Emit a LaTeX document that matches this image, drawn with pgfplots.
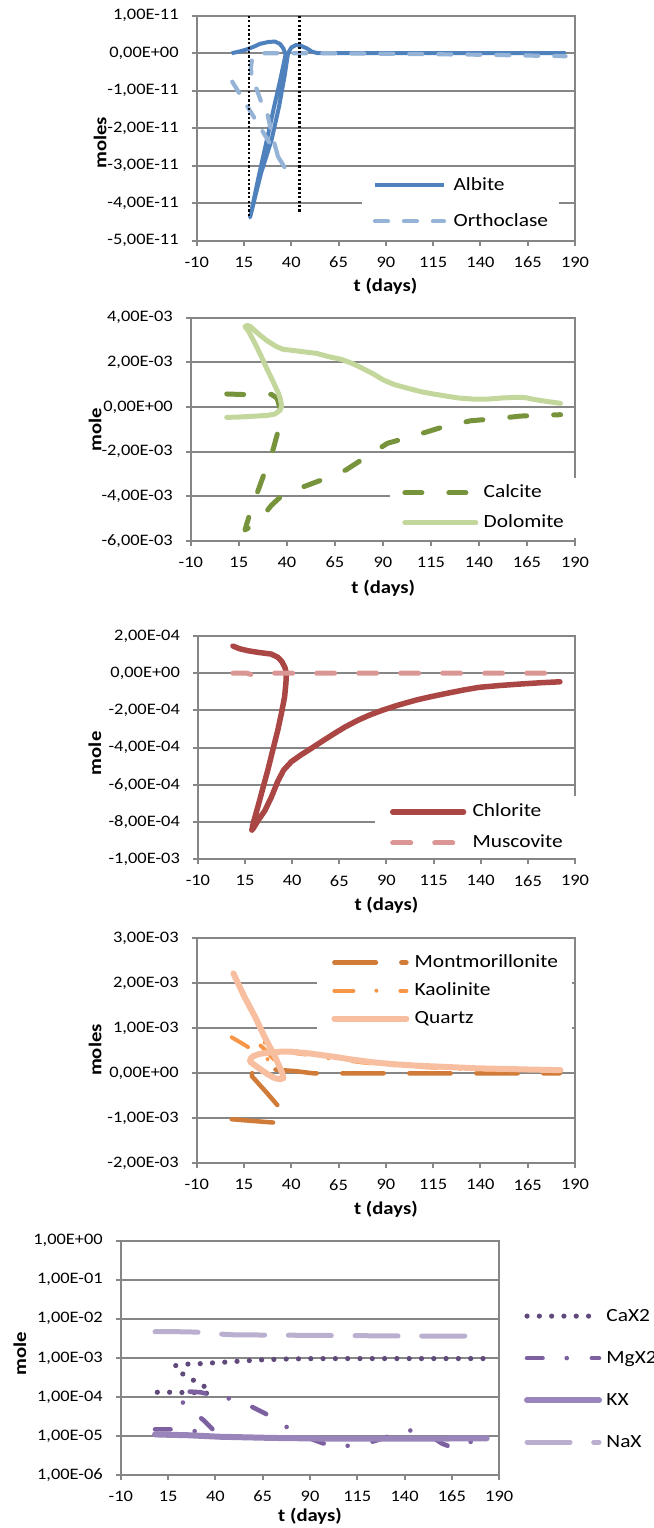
\documentclass[border=0pt]{standalone}
\usepackage{pgfplots}
\pgfplotsset{compat=1.18}
\usepackage{fontspec}
\setmainfont{Carlito}[FakeStretch=1.15]
\definecolor{axisgray}{HTML}{868686}
\definecolor{albite}{HTML}{4F81BD}
\definecolor{orthoclase}{HTML}{95B3D7}
\definecolor{calcite}{HTML}{77933C}
\definecolor{dolomite}{HTML}{C3D69B}
\definecolor{chlorite}{HTML}{AA4643}
\definecolor{muscovite}{HTML}{D99694}
\definecolor{montmo}{HTML}{D07B38}
\definecolor{kaolinite}{HTML}{F79646}
\definecolor{quartz}{HTML}{F7BFA0}
\definecolor{cax}{HTML}{604A7B}
\definecolor{mgx}{HTML}{7D60A0}
\definecolor{kx}{HTML}{9985BA}
\definecolor{nax}{HTML}{BAAFCF}
\pgfplotsset{
  panel/.style={
    scale only axis,
    anchor=south west,
    xmin=-10, xmax=190,
    xtick={-10,15,40,65,90,115,140,165,190},
    xticklabels={-10,15,40,65,90,115,140,165,190},
    scaled y ticks=false,
    scaled x ticks=false,
    tick pos=left,
    tick align=outside,
    major tick length=2.5pt,
    axis line style={axisgray, line width=1pt},
    tick style={axisgray, line width=1pt},
    ymajorgrids,
    grid style={axisgray, line width=1pt},
    ticklabel style={font=\fontsize{8}{9.6}\selectfont},
    xticklabel style={yshift=-2pt},
    yticklabel style={xshift=-3pt},
    label style={font=\bfseries\fontsize{9}{10.8}\selectfont},
    xlabel={t (days)},
    legend cell align=left,
    legend style={draw=none, fill=white, font=\fontsize{9.3}{11}\selectfont,
      nodes={inner sep=0pt, text height=7pt, text depth=2pt}},
  }
}
\begin{document}
\begin{tikzpicture}
\useasboundingbox (0,0) rectangle (327pt,-764pt);
% ---------------- Panel 1 ----------------
\begin{axis}[panel, at={(98.35pt,-120.35pt)}, width=189.15pt, height=112.5pt,
  ymin=-5e-11, ymax=1e-11,
  ytick={-5e-11,-4e-11,-3e-11,-2e-11,-1e-11,0,1e-11},
  yticklabels={{-5,00E-11},{-4,00E-11},{-3,00E-11},{-2,00E-11},{-1,00E-11},{0,00E+00},{1,00E-11}},
  ylabel={moles},
  xlabel style={at={(axis description cs:0.499,-0.2044)}, anchor=center},
  ylabel style={at={(axis description cs:-0.2556,0.4356)}, anchor=center},
  legend style={at={(axis description cs:0.4362,0.0044)}, anchor=south west,
    inner xsep=5.35pt, inner ysep=4.5pt, row sep=9pt, column sep=3.8pt},
  legend image code/.code={\draw[#1] (0pt,0pt) -- (34.5pt,0pt);},
]
\addplot[color=albite, line width=2pt, line join=round] coordinates {
(8.5,0) (13,0.05e-11) (16.4,0.1e-11) (20,0.17e-11) (23.5,0.25e-11) (28,0.3e-11) (31.4,0.31e-11)
(34,0.25e-11) (35.8,0.13e-11) (37,-0.04e-11) (34,-0.75e-11) (30.9,-1.43e-11) (27.1,-2.31e-11)
(22.5,-3.35e-11) (18.2,-4.38e-11) (24,-3.2e-11) (29.6,-2.31e-11) (33.5,-1.43e-11) (36.5,-0.6e-11)
(38.3,0) (40,0.15e-11) (42.5,0.22e-11) (45,0.2e-11) (48.2,0.13e-11) (51,0.04e-11) (54,0) (185,0)};
\addlegendentry{Albite}
\addplot[color=orthoclase, line width=2.1pt, line join=round, line cap=round, dash pattern=on 6.5pt off 8pt] coordinates {
(8.8,-0.76e-11) (15,-1.27e-11) (22,-1.85e-11) (29,-2.43e-11) (36.8,-3.07e-11) (33,-2.76e-11)
(30,-2.2e-11) (27.5,-1.65e-11) (24.4,-1.34e-11) (21.7,-0.96e-11) (19.2,-0.67e-11) (18.6,-0.4e-11)
(19.2,-0.17e-11) (21,-0.05e-11) (23.5,0) (60,0) (100,-0.02e-11) (140,-0.04e-11) (185,-0.08e-11)};
\addlegendentry{Orthoclase}
\addplot[black, line width=1.1pt, dash pattern=on 1.1pt off 1.1pt, forget plot] coordinates {(17.6,1e-11) (17.6,-4.36e-11)};
\addplot[black, line width=1.1pt, dash pattern=on 1.1pt off 1.1pt, forget plot] coordinates {(44.3,1e-11) (44.3,-4.27e-11)};
\end{axis}
% ---------------- Panel 2 ----------------
\begin{axis}[panel, at={(95.4pt,-270.35pt)}, width=192.1pt, height=111.5pt,
  ymin=-6e-3, ymax=4e-3,
  ytick={-6e-3,-4e-3,-2e-3,0,2e-3,4e-3},
  yticklabels={{-6,00E-03},{-4,00E-03},{-2,00E-03},{0,00E+00},{2,00E-03},{4,00E-03}},
  ylabel={mole},
  xlabel style={at={(axis description cs:0.501,-0.2135)}, anchor=center},
  ylabel style={at={(axis description cs:-0.2493,0.4964)}, anchor=center},
  legend style={at={(axis description cs:0.5174,0.0108)}, anchor=south west,
    inner xsep=6.2pt, inner ysep=3pt, row sep=6pt, column sep=2.65pt},
  legend image code/.code={\draw[#1] (0pt,0pt) -- (35.5pt,0pt);},
]
\addplot[color=calcite, line width=2.5pt, line join=round, line cap=round, dash pattern=on 8.5pt off 13.5pt] coordinates {
(8.7,0.58e-3) (19,0.55e-3) (28,0.57e-3) (32,0.56e-3) (35,0.38e-3) (36.2,0) (36,-0.6e-3) (35.6,-1.04e-3)
(33,-1.86e-3) (28.6,-2.9e-3) (25.1,-3.73e-3) (20.8,-4.77e-3) (18.2,-5.52e-3) (25.1,-5.15e-3)
(32.1,-4.4e-3) (36.5,-4.05e-3) (41.6,-3.8e-3) (51.2,-3.5e-3) (62.5,-3.13e-3) (70.7,-2.83e-3)
(81.5,-2.23e-3) (92.4,-1.63e-3) (107.6,-1.26e-3) (122.7,-0.86e-3) (135.8,-0.62e-3) (151,-0.51e-3)
(161.8,-0.41e-3) (177,-0.36e-3) (182.5,-0.35e-3)};
\addlegendentry{Calcite}
\addplot[color=dolomite, line width=2.5pt, line join=round, line cap=round] coordinates {
(8.7,-0.47e-3) (16,-0.45e-3) (24.3,-0.41e-3) (30,-0.38e-3) (33.8,-0.32e-3) (36.5,-0.15e-3) (37.3,0.05e-3)
(36.5,0.4e-3) (35.6,0.61e-3) (32.5,1.2e-3) (29.5,1.73e-3) (26.5,2.3e-3) (23.4,2.85e-3) (20,3.4e-3)
(18.2,3.6e-3) (19.5,3.66e-3) (21,3.6e-3) (26,3.22e-3) (30,2.95e-3) (34.7,2.7e-3) (38.2,2.58e-3)
(41.6,2.55e-3) (48,2.48e-3) (55.5,2.4e-3) (62,2.25e-3) (68.5,2.13e-3) (74,1.95e-3) (79.4,1.73e-3)
(85,1.48e-3) (90.2,1.21e-3) (96,1.0e-3) (103.2,0.83e-3) (110,0.68e-3) (116.2,0.58e-3) (122,0.5e-3)
(129.3,0.4e-3) (137,0.35e-3) (144.4,0.35e-3) (152,0.4e-3) (159.6,0.43e-3) (164,0.42e-3) (168.3,0.34e-3)
(175,0.25e-3) (182.4,0.16e-3)};
\addlegendentry{Dolomite}
\end{axis}
% ---------------- Panel 3 ----------------
\begin{axis}[panel, at={(98.95pt,-429.65pt)}, width=188.55pt, height=111.65pt,
  ymin=-1e-3, ymax=2e-4,
  ytick={-1e-3,-8e-4,-6e-4,-4e-4,-2e-4,0,2e-4},
  yticklabels={{-1,00E-03},{-8,00E-04},{-6,00E-04},{-4,00E-04},{-2,00E-04},{0,00E+00},{2,00E-04}},
  ylabel={mole},
  xlabel style={at={(axis description cs:0.5,-0.2047)}, anchor=center},
  ylabel style={at={(axis description cs:-0.2729,0.4747)}, anchor=center},
  legend style={at={(axis description cs:0.4696,0.002)}, anchor=south west,
    inner xsep=7.3pt, inner ysep=3.25pt, row sep=6.5pt, column sep=3.15pt},
  legend image code/.code={\draw[#1] (0pt,0pt) -- (35.4pt,0pt);},
]
\addplot[color=chlorite, line width=2.75pt, line join=round, line cap=round] coordinates {
(8.6,1.46e-4) (12,1.32e-4) (16.5,1.21e-4) (22,1.12e-4) (28.9,1.03e-4) (32.5,0.85e-4) (34.6,0.62e-4)
(36.2,0.3e-4) (36.9,0) (36.7,-0.5e-4) (36,-1.26e-4) (34.3,-2.15e-4) (32.4,-3.05e-4) (29.8,-4.1e-4)
(27.1,-5.2e-4) (24.4,-6.2e-4) (21.8,-7.18e-4) (19.5,-8.0e-4) (18.6,-8.43e-4) (19.6,-8.3e-4)
(22,-7.9e-4) (25.4,-7.4e-4) (28.8,-6.7e-4) (32.4,-5.8e-4) (35.5,-5.2e-4) (39.5,-4.76e-4)
(44.5,-4.4e-4) (50.1,-4.04e-4) (56,-3.65e-4) (62.5,-3.23e-4) (68.2,-2.88e-4) (75,-2.52e-4)
(81,-2.25e-4) (88.1,-1.98e-4) (96,-1.72e-4) (105.8,-1.44e-4) (114,-1.25e-4) (123.5,-1.05e-4)
(131,-0.9e-4) (139,-0.76e-4) (150,-0.66e-4) (161,-0.58e-4) (172,-0.51e-4) (182,-0.46e-4)};
\addlegendentry{Chlorite}
\addplot[color=muscovite, line width=2.5pt, line join=round, line cap=round, dash pattern=on 9pt off 12pt] coordinates {
(8.6,0) (16,0) (18.5,-0.08e-4) (22,-0.06e-4) (26,0) (182,0)};
\addlegendentry{Muscovite}
\end{axis}
% ---------------- Panel 4 ----------------
\begin{axis}[panel, at={(98.35pt,-581.65pt)}, width=189.15pt, height=112.5pt,
  ymin=-2e-3, ymax=3e-3,
  ytick={-2e-3,-1e-3,0,1e-3,2e-3,3e-3},
  yticklabels={{-2,00E-03},{-1,00E-03},{0,00E+00},{1,00E-03},{2,00E-03},{3,00E-03}},
  ylabel={moles},
  xlabel style={at={(axis description cs:0.5,-0.2044)}, anchor=center},
  ylabel style={at={(axis description cs:-0.2688,0.5036)}, anchor=center},
  legend style={at={(axis description cs:0.3172,0.9556)}, anchor=north west,
    inner xsep=7.15pt, inner ysep=2.5pt, row sep=5pt, column sep=2.65pt},
  legend image code/.code={\draw[#1] (0pt,0pt) -- (36pt,0pt);},
]
\addplot[color=montmo, line width=2.25pt, line join=round, line cap=round, dash pattern=on 20.75pt off 12.75pt] coordinates {
(8.5,-1.02e-3) (20,-1.06e-3) (32.3,-1.1e-3) (35,-1.0e-3) (35.2,-0.85e-3) (34.6,-0.8e-3) (27,-0.43e-3)
(19.1,-0.06e-3) (19.5,0.05e-3) (23,0.1e-3) (27.9,0.1e-3) (35,0.07e-3) (42,0.05e-3) (51.6,0) (182,0)};
\addlegendentry{Montmorillonite}
\addplot[color=kaolinite, line width=2pt, line join=round, line cap=round, dash pattern=on 9.5pt off 11.5pt on 0pt off 12pt] coordinates {
(8.5,0.8e-3) (13,0.69e-3) (17.3,0.58e-3) (23,0.43e-3) (28.8,0.28e-3) (32.3,0.19e-3) (34,0.15e-3)
(30,0.35e-3) (25,0.57e-3) (20.5,0.73e-3) (19.5,0.76e-3) (22,0.72e-3) (27,0.67e-3) (31,0.6e-3)
(35,0.52e-3) (42,0.45e-3) (49,0.41e-3) (57,0.35e-3) (66.6,0.3e-3) (78,0.24e-3) (90,0.19e-3)
(104,0.15e-3) (118,0.12e-3) (133,0.09e-3) (150,0.07e-3) (165,0.06e-3) (182,0.05e-3)};
\addlegendentry{Kaolinite}
\addplot[color=quartz, line width=3pt, line join=round, line cap=round] coordinates {
(9.4,2.22e-3) (15,1.72e-3) (20.8,1.26e-3) (26,0.8e-3) (31.4,0.37e-3) (35.3,0) (35.8,-0.11e-3)
(34,-0.13e-3) (31.4,-0.11e-3) (27.5,-0.02e-3) (24.4,0.07e-3) (21,0.17e-3) (18.2,0.26e-3)
(18.5,0.33e-3) (19.9,0.38e-3) (23,0.43e-3) (27.9,0.46e-3) (34,0.48e-3) (40.2,0.48e-3) (50,0.44e-3)
(62.2,0.37e-3) (73,0.3e-3) (84.3,0.24e-3) (95,0.2e-3) (106.3,0.17e-3) (117,0.15e-3) (128.3,0.13e-3)
(139,0.11e-3) (150.3,0.1e-3) (165,0.085e-3) (182.3,0.07e-3)};
\addlegendentry{Quartz}
\end{axis}
% ---------------- Panel 5 ----------------
\begin{axis}[panel, at={(60.4pt,-737.5pt)}, width=189.2pt, height=117.15pt,
  ymode=log, ymin=1e-6, ymax=1, yminorticks=false,
  ytick={1e-6,1e-5,1e-4,1e-3,1e-2,1e-1,1},
  yticklabels={{1,00E-06},{1,00E-05},{1,00E-04},{1,00E-03},{1,00E-02},{1,00E-01},{1,00E+00}},
  ylabel={mole},
  xlabel style={at={(axis description cs:0.5,-0.178)}, anchor=center},
  ylabel style={at={(axis description cs:-0.2664,0.5194)}, anchor=center},
  legend style={at={(axis description cs:1.054,0.7354)}, anchor=north west,
    inner xsep=2pt, inner ysep=2pt, row sep=12pt, column sep=2.2pt},
  legend image code/.code={\draw[#1] (0pt,0pt) -- (36pt,0pt);},
]
\addplot[color=cax, line width=2.6pt, line cap=round, dash pattern=on 0pt off 6.15pt] coordinates {
(9.3,1.318e-4) (14,1.318e-4) (19,1.318e-4) (24,1.288e-4) (28.7,1.288e-4) (33,1.259e-4) (37,1.230e-4)
(34.1,1.862e-4) (28.3,2.692e-4) (22.7,3.890e-4) (18.6,6.31e-4) (24.8,6.918e-4) (31.5,7.079e-4)
(38,7.413e-4) (44.7,7.762e-4) (54,8.318e-4) (64.5,8.913e-4) (77,9.333e-4) (90.5,9.550e-4)
(110,9.6e-4) (140,9.6e-4) (182.5,9.6e-4)};
\addlegendentry{CaX2}
\addplot[color=mgx, line width=2.3pt, line join=round, line cap=round, dash pattern=on 7.75pt off 12.1pt on 0pt off 12.6pt] coordinates {
(8.1,1.479e-5) (19.5,1.479e-5) (26,1.380e-5) (32,1.288e-5) (38,1.202e-5) (40,1.259e-5) (33.6,2.570e-5)
(25.7,5.129e-5) (20,1e-4) (19.9,1.349e-4) (25,1.380e-4) (31.9,1.318e-4) (42.5,1.023e-4) (48,8.913e-5)
(54.7,7.079e-5) (60,5.370e-5) (66.2,3.802e-5) (75,2.089e-5) (80,1.413e-5) (85.6,1.047e-5)
(92,7.943e-6) (97,6.457e-6) (108.5,5.495e-6) (120,6.457e-6) (126,7.943e-6) (132.3,1e-5)
(137,1.202e-5) (142,1.413e-5) (147,1.259e-5) (153,1.047e-5) (160,6.310e-6) (165,5.129e-6)
(175,7.079e-6) (178,8.7e-6)};
\addlegendentry{MgX2}
\addplot[color=kx, line width=3pt, line join=round, line cap=round] coordinates {
(8.1,1.096e-5) (15,1.072e-5) (25,1.047e-5) (42.4,9.55e-6) (70,8.913e-6) (95.3,8.6e-6) (130,8.5e-6)
(160,8.6e-6) (183.4,8.7e-6)};
\addlegendentry{KX}
\addplot[color=nax, line width=2.5pt, line join=round, line cap=round, dash pattern=on 21.5pt off 11.85pt] coordinates {
(8.1,4.677e-3) (20,4.677e-3) (30,4.571e-3) (38,4.169e-3) (50,3.890e-3) (80,3.802e-3) (110,3.715e-3)
(140,3.631e-3) (182,3.631e-3)};
\addlegendentry{NaX}
\end{axis}
\end{tikzpicture}
\end{document}
